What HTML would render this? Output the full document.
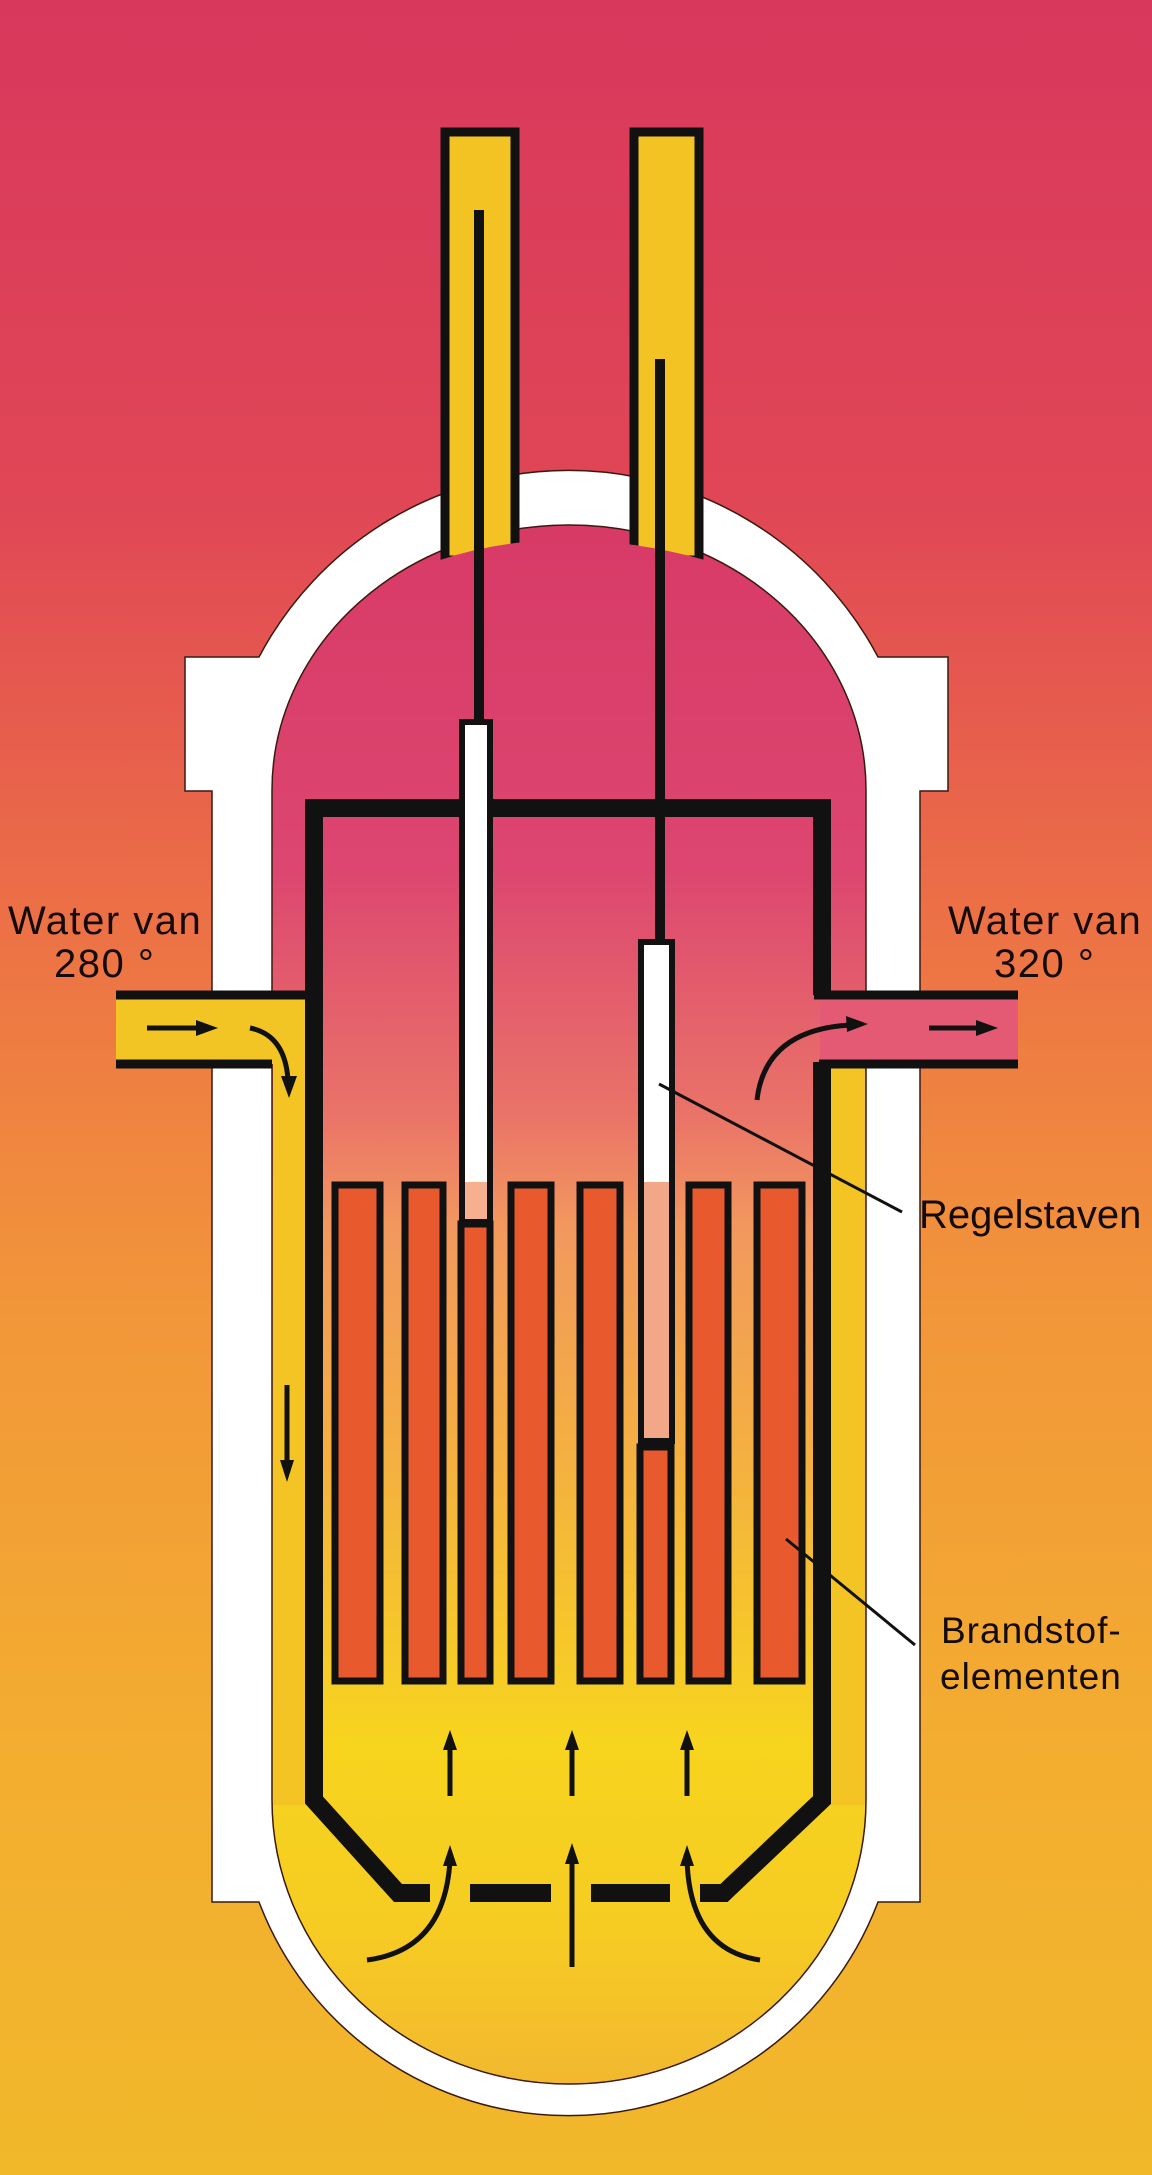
<!DOCTYPE html>
<html><head><meta charset="utf-8"><style>
html,body{margin:0;padding:0;width:1152px;height:2175px;overflow:hidden}
svg{display:block}
text{font-family:"Liberation Sans",sans-serif;fill:#140c0c}
</style></head><body>
<svg width="1152" height="2175" viewBox="0 0 1152 2175" xmlns="http://www.w3.org/2000/svg">
<defs>
<linearGradient id="bg" x1="0" y1="0" x2="0" y2="2175" gradientUnits="userSpaceOnUse">
<stop offset="0" stop-color="#d8385c"/>
<stop offset="0.23" stop-color="#e04656"/>
<stop offset="0.42" stop-color="#ec7046"/>
<stop offset="0.6" stop-color="#f2963a"/>
<stop offset="0.8" stop-color="#f3ad30"/>
<stop offset="1" stop-color="#f1b82a"/>
</linearGradient>
<linearGradient id="inner" x1="0" y1="525" x2="0" y2="2084" gradientUnits="userSpaceOnUse">
<stop offset="0" stop-color="#d83a66"/>
<stop offset="0.22" stop-color="#dc4670"/>
<stop offset="0.38" stop-color="#ea7468"/>
<stop offset="0.45" stop-color="#f2985e"/>
<stop offset="0.6" stop-color="#f4b040"/>
<stop offset="0.78" stop-color="#f7d41e"/>
<stop offset="0.9" stop-color="#f6cc22"/>
<stop offset="1" stop-color="#f2b830"/>
</linearGradient>
</defs>
<rect width="1152" height="2175" fill="url(#bg)"/>
<path d="M212 1902 L212 791 L185 791 L185 657 L259 657 A350 350 0 0 1 878 657 L948 657 L948 791 L920 791 L920 1902 L878 1902 A331 331 0 0 1 259 1902 Z" fill="#ffffff" stroke="#3a1a10" stroke-width="1.5"/>
<path d="M272 1800 L272 790 A297 265 0 0 1 866 790 L866 1800 A297 284 0 0 1 272 1800 Z" fill="url(#inner)" stroke="#3a1a10" stroke-width="1.5"/>
<rect x="273" y="1060" width="33" height="745" fill="#f3c424"/>
<rect x="831" y="1060" width="34" height="745" fill="#f3c424"/>
<rect x="445" y="132" width="70" height="428" fill="#f2c323" stroke="#111" stroke-width="9"/>
<rect x="634" y="132" width="65" height="428" fill="#f2c323" stroke="#111" stroke-width="9"/>
<path d="M440 560 Q560 520 705 560 L705 600 L440 600Z" fill="url(#inner)"/>
<rect x="116" y="995" width="190" height="69" fill="#f2c424"/>
<line x1="116" y1="995" x2="310" y2="995" stroke="#111" stroke-width="9"/>
<line x1="116" y1="1064" x2="272" y2="1064" stroke="#111" stroke-width="9"/>
<rect x="820" y="995" width="198" height="69" fill="#e45a74"/>
<line x1="814" y1="995" x2="1018" y2="995" stroke="#111" stroke-width="9"/>
<line x1="819" y1="1064" x2="1018" y2="1064" stroke="#111" stroke-width="9"/>
<path d="M314 1000 L314 808 L822 808 L822 995 M822 1062 L822 1800 L724 1893 L700 1893 M670 1893 L591 1893 M551 1893 L470 1893 M430 1893 L398 1893 L314 1800 L314 1000" fill="none" stroke="#111" stroke-width="18"/>
<g fill="#e85a2e" stroke="#111" stroke-width="7">
<rect x="335" y="1185" width="45" height="496"/>
<rect x="405" y="1185" width="38" height="496"/>
<rect x="461" y="1224" width="29" height="457"/>
<rect x="511" y="1185" width="40" height="496"/>
<rect x="580" y="1185" width="40" height="496"/>
<rect x="640" y="1447" width="31" height="234"/>
<rect x="689" y="1185" width="39" height="496"/>
<rect x="757" y="1185" width="45" height="496"/>
</g>
<line x1="479" y1="210" x2="479" y2="722" stroke="#111" stroke-width="10"/>
<line x1="660" y1="359" x2="660" y2="942" stroke="#111" stroke-width="10"/>
<rect x="462" y="722" width="28" height="500" fill="#fff" stroke="#111" stroke-width="6"/>
<rect x="465" y="1182" width="22" height="37" fill="#f6b090"/>
<rect x="641" y="942" width="31" height="499" fill="#fff" stroke="#111" stroke-width="6"/>
<rect x="644" y="1182" width="25" height="256" fill="#f2a888"/>
<line x1="659" y1="1084" x2="902" y2="1212" stroke="#111" stroke-width="3"/>
<line x1="786" y1="1539" x2="915" y2="1645" stroke="#111" stroke-width="3"/>
<g stroke="#111" stroke-width="5" fill="none">
<line x1="147" y1="1028" x2="200" y2="1028"/>
<path d="M250 1028 Q285 1035 288 1080"/>
<line x1="287" y1="1385" x2="287" y2="1465"/>
<line x1="929" y1="1028" x2="980" y2="1028"/>
<path d="M757 1100 Q765 1030 850 1025"/>
<line x1="450" y1="1796" x2="450" y2="1745"/>
<line x1="572" y1="1796" x2="572" y2="1745"/>
<line x1="687" y1="1796" x2="687" y2="1745"/>
<path d="M367 1960 Q445 1950 450 1860"/>
<line x1="572" y1="1967" x2="572" y2="1860"/>
<path d="M760 1960 Q690 1950 687 1860"/>
</g>
<g fill="#111">
<path d="M218 1028 L196 1020 L196 1036Z"/>
<path d="M289 1098 L281 1076 L297 1076Z"/>
<path d="M287 1482 L280 1460 L294 1460Z"/>
<path d="M998 1028 L976 1020 L976 1036Z"/>
<path d="M868 1024 L846 1016 L847 1032Z"/>
<path d="M450 1730 L443 1750 L457 1750Z"/>
<path d="M572 1730 L565 1750 L579 1750Z"/>
<path d="M687 1730 L680 1750 L694 1750Z"/>
<path d="M450 1845 L443 1866 L457 1866Z"/>
<path d="M572 1843 L565 1864 L579 1864Z"/>
<path d="M687 1845 L680 1866 L694 1866Z"/>
</g>
<text x="8" y="934" font-size="40" letter-spacing="1.5">Water van</text>
<text x="54" y="977" font-size="40" letter-spacing="1.5">280 °</text>
<text x="948" y="934" font-size="40" letter-spacing="1.5">Water van</text>
<text x="994" y="977" font-size="40" letter-spacing="1.5">320 °</text>
<text x="919" y="1228" font-size="40">Regelstaven</text>
<text x="941" y="1643" font-size="37" letter-spacing="1">Brandstof-</text>
<text x="940" y="1689" font-size="37" letter-spacing="1">elementen</text>
</svg>
</body></html>
